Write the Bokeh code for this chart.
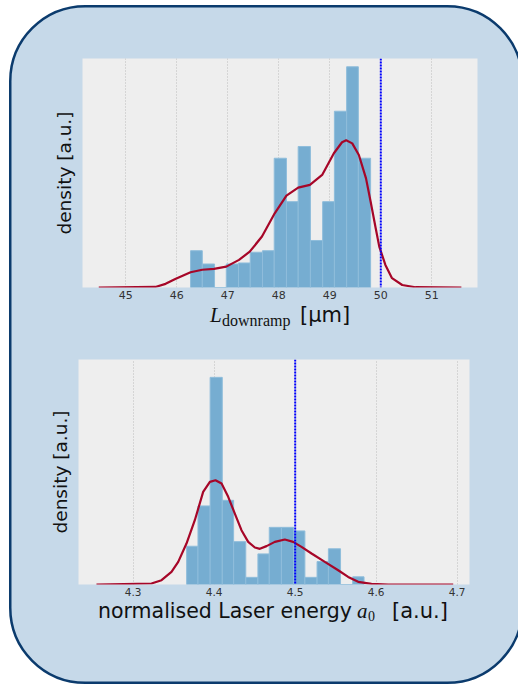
import urllib.parse
import numpy as np
from bokeh.plotting import figure
from bokeh.models import Range1d, FixedTicker, Span, Div
from bokeh.layouts import column
from bokeh.embed import file_html
from bokeh.resources import INLINE

# ---------------- data ----------------
# top: L_downramp histogram (bin edges in µm, counts)
top_edges = [46.27, 46.50, 46.74, 46.97, 47.21, 47.44, 47.68, 47.91,
             48.15, 48.38, 48.62, 48.86, 49.09, 49.33, 49.56, 49.80]
top_counts = [3, 2, 0, 2, 2, 3, 3, 11, 7, 12, 4, 7, 15, 18, 11]
top_kde_x = [44.47, 45.58, 45.78, 45.97, 46.27, 46.50, 46.73, 46.97, 47.22,
             47.43, 47.67, 47.92, 48.15, 48.38, 48.61, 48.85, 49.08, 49.24,
             49.32, 49.44, 49.57, 49.71, 49.80, 49.90, 49.97, 50.09, 50.22,
             50.42, 50.68, 51.58]
top_kde_y = [0.0, 0.002, 0.013, 0.030, 0.054, 0.063, 0.066, 0.074, 0.098,
             0.127, 0.181, 0.263, 0.326, 0.354, 0.364, 0.399, 0.476, 0.515,
             0.522, 0.511, 0.470, 0.387, 0.305, 0.210, 0.145, 0.080, 0.033,
             0.009, 0.001, 0.0]
top_ref = 50.0
top_ticks = [45, 46, 47, 48, 49, 50, 51]

# bottom: normalised laser energy a0 histogram
bot_edges = [4.366, 4.380, 4.395, 4.410, 4.424, 4.439, 4.454, 4.468,
             4.483, 4.498, 4.512, 4.527, 4.541, 4.556, 4.571, 4.585]
bot_counts = [5, 11, 29, 11, 6, 1, 4, 8, 8, 7, 1, 3, 5, 0, 1]
bot_kde_x = [4.2547, 4.3226, 4.335, 4.3473, 4.3556, 4.3658, 4.3761, 4.3864,
             4.3947, 4.4016, 4.4091, 4.4173, 4.4255, 4.4337, 4.4420, 4.4502,
             4.4564, 4.4646, 4.4749, 4.4872, 4.4975, 4.5078, 4.5202, 4.5366,
             4.5531, 4.5654, 4.5778, 4.5942, 4.6148, 4.6951]
bot_kde_y = [0.0, 0.093, 0.404, 1.182, 2.115, 3.825, 6.00, 8.64, 9.58, 9.73,
             9.42, 8.18, 6.62, 5.07, 3.98, 3.45, 3.33, 3.58, 3.98, 4.20, 3.98,
             3.51, 2.89, 2.11, 1.33, 0.71, 0.25, 0.06, 0.0, 0.0]
bot_ref = 4.5
bot_ticks = [4.3, 4.4, 4.5, 4.6, 4.7]

ylabel = "density [a.u.]"

# ---------------- styles ----------------
PANEL_BG = "#c6d9e9"
PANEL_BORDER = "#0b3b6d"
FRAME_BG = "#eeeeee"
BAR = "#76add1"
BAR_EDGE = "#8fbddb"
KDE = "#A60628"
SANS = "DejaVu Sans"
SERIF = "Liberation Serif"
TXT = "#111111"


def density(edges, counts):
    e = np.asarray(edges, dtype=float)
    c = np.asarray(counts, dtype=float)
    w = np.diff(e)
    return e[:-1], e[1:], c / (c.sum() * w)


def make(edges, counts, kx, ky, ref, ticks, xr, yr, w, h, mb, tick_size, ystand):
    p = figure(width=w, height=h, x_range=Range1d(*xr), y_range=Range1d(*yr),
               output_backend="svg", toolbar_location=None, tools="",
               min_border_left=mb[0], min_border_right=mb[1],
               min_border_top=mb[2], min_border_bottom=mb[3],
               background_fill_color=FRAME_BG, border_fill_color=None,
               outline_line_color=None, frame_align=False)
    l, r, t = density(edges, counts)
    p.quad(left=l, right=r, bottom=0, top=t, fill_color=BAR,
           line_color=BAR_EDGE, line_width=1)
    p.line(kx, ky, line_color=KDE, line_width=2.2)
    p.add_layout(Span(location=ref, dimension="height", line_color="#0000ff",
                      line_dash="2 1", line_width=2))
    ax = p.xaxis[0]
    ax.ticker = FixedTicker(ticks=ticks)
    ax.axis_line_color = None
    ax.major_tick_line_color = None
    ax.minor_tick_line_color = None
    ax.major_tick_out = 0
    ax.major_tick_in = 0
    ax.major_label_standoff = 3
    ax.major_label_text_font = SANS
    ax.major_label_text_font_size = tick_size
    ax.major_label_text_color = "#333333"
    ay = p.yaxis[0]
    ay.ticker = FixedTicker(ticks=[])
    ay.axis_line_color = None
    ay.major_tick_line_color = None
    ay.minor_tick_line_color = None
    ay.major_tick_out = 0
    ay.major_label_standoff = 0
    ay.axis_label = ylabel
    ay.axis_label_text_font = SANS
    ay.axis_label_text_font_style = "normal"
    ay.axis_label_text_font_size = "18.5px"
    ay.axis_label_text_color = TXT
    ay.axis_label_standoff = ystand
    p.xgrid.grid_line_color = "#bdbdbd"
    p.xgrid.grid_line_dash = "1 2"
    p.xgrid.grid_line_width = 1
    p.ygrid.grid_line_color = None
    return p


def span(text, left, top, font, size, italic=False):
    style = (f"position:absolute;left:{left}px;top:{top}px;font-family:'{font}';"
             f"font-size:{size}px;line-height:1;white-space:nowrap;color:{TXT};"
             + ("font-style:italic;" if italic else ""))
    return f'<span style="{style}">{text}</span>'


# top figure: frame x 81.5..476.5, y 57.5..286.5
top = make(top_edges, top_counts, top_kde_x, top_kde_y, top_ref, top_ticks,
           (44.151, 51.896), (0, 0.812), 500, 298, (70, 35, 50, 19), "11px", 8)

top_label = Div(width=500, height=34, margin=0, text=(
    '<div style="position:relative;width:500px;height:34px;">'
    + span("L", 198.5, -1, SERIF, 21, italic=True)
    + span("downramp", 210.5, 7.5, SERIF, 16)
    + span("[µm]", 288.5, -0.5, SANS, 21)
    + "</div>"))

# bottom figure: frame x 77.5..468.5, y 359..584
bot = make(bot_edges, bot_counts, bot_kde_x, bot_kde_y, bot_ref, bot_ticks,
           (4.2325, 4.7152), (0, 21.0), 500, 260, (66, 43, 19, 16), "10.5px", 8)

bot_label = Div(width=500, height=40, margin=0, text=(
    '<div style="position:relative;width:500px;height:40px;">'
    + span("normalised Laser energy", 86.5, 1.5, SANS, 20.5)
    + span("a", 345.5, 1.5, SERIF, 21, italic=True)
    + span("0", 356.5, 10.5, SERIF, 14)
    + span("[a.u.]", 380.5, 1.2, SANS, 21)
    + "</div>"))

# rounded panel behind both plots (extends past the right edge of the page)
panel_svg = (
    '<svg xmlns="http://www.w3.org/2000/svg" width="600" height="684" '
    'viewBox="0 0 600 684">'
    f'<rect x="10.25" y="6.25" width="512" height="676.5" rx="75" ry="75" '
    f'fill="{PANEL_BG}" stroke="{PANEL_BORDER}" stroke-width="2.5"/></svg>')
panel_uri = "data:image/svg+xml;utf8," + urllib.parse.quote(panel_svg)

inner = column(top, top_label, bot, bot_label, width=500, height=674,
               styles={"margin-left": "11.5px", "margin-top": "7.5px"})
root = column(inner, width=518, height=684,
              styles={"overflow": "hidden",
                      "background-image": f'url("{panel_uri}")',
                      "background-repeat": "no-repeat",
                      "background-size": "600px 684px",
                      "background-position": "0px 0px"})

open("out.html", "w").write(file_html(root, INLINE))
